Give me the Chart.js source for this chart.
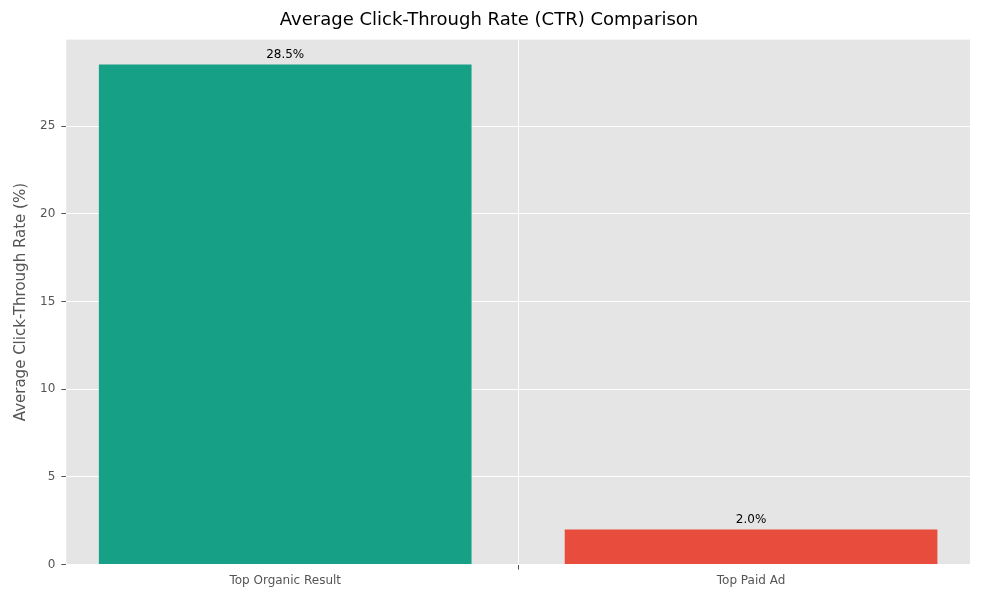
<!DOCTYPE html>
<html>
<head>
<meta charset="utf-8">
<script src="https://cdn.jsdelivr.net/npm/chart.js@4"></script>
<style>
  html, body { margin: 0; padding: 0; background: #fff; }
  #wrap { width: 1000px; height: 600px; }
</style>
</head>
<body>
<div id="wrap"><canvas id="c"></canvas></div>
<script>
const categories = ["Top Organic Result", "Top Paid Ad"];
const ctrValues = [28.5, 2.0];
const barColors = ["#16a085", "#e74c3c"];
const yTicks = [0, 5, 10, 15, 20, 25];

// grey panel behind the plot area
const panelBg = {
  id: "panelBg",
  beforeDraw(chart) {
    const a = chart.chartArea, ctx = chart.ctx;
    ctx.save();
    ctx.fillStyle = "#e5e5e5";
    ctx.fillRect(a.left, a.top, a.right - a.left, a.bottom - a.top);
    ctx.restore();
  }
};

// value labels above bars
const valueLabels = {
  id: "valueLabels",
  afterDatasetsDraw(chart) {
    const ctx = chart.ctx;
    const meta = chart.getDatasetMeta(0);
    ctx.save();
    ctx.fillStyle = "#000";
    ctx.font = "12px 'DejaVu Sans'";
    ctx.textAlign = "center";
    ctx.textBaseline = "bottom";
    meta.data.forEach((bar, i) => {
      ctx.fillText(ctrValues[i].toFixed(1) + "%", bar.x, bar.y - 4);
    });
    ctx.restore();
  }
};

new Chart(document.getElementById("c"), {
  type: "bar",
  data: {
    datasets: [{
      data: ctrValues.map((v, i) => ({ x: i, y: v })),
      backgroundColor: barColors,
      barPercentage: 0.8,
      categoryPercentage: 1.0
    }]
  },
  options: {
    responsive: true,
    maintainAspectRatio: false,
    animation: false,
    layout: { padding: { left: 8, right: 30, top: 0, bottom: 8 } },
    plugins: {
      legend: { display: false },
      tooltip: { enabled: false },
      title: {
        display: true,
        text: "Average Click-Through Rate (CTR) Comparison",
        color: "#000",
        font: { family: "DejaVu Sans", size: 18, weight: "normal" },
        padding: { top: 10, bottom: 8 }
      }
    },
    scales: {
      x: {
        type: "linear",
        offset: false,
        min: -0.47,
        max: 1.47,
        afterBuildTicks(axis) { axis.ticks = categories.map((_, i) => ({ value: i })); },
        ticks: {
          callback: (v) => categories[v] ?? "",
          color: "#555",
          font: { family: "DejaVu Sans", size: 12 },
          padding: 4
        },
        grid: { color: "#fff", lineWidth: 1, tickLength: 5, tickColor: "#555", drawOnChartArea: true },
        border: { display: false }
      },
      y: {
        min: 0,
        max: 29.925,
        afterBuildTicks(axis) { axis.ticks = yTicks.map(v => ({ value: v })); },
        ticks: {
          color: "#555",
          font: { family: "DejaVu Sans", size: 12 },
          padding: 6
        },
        title: {
          display: true,
          text: "Average Click-Through Rate (%)",
          color: "#555",
          font: { family: "DejaVu Sans", size: 15 }
        },
        grid: { color: "#fff", lineWidth: 1, tickLength: 5, tickColor: "#555" },
        border: { display: false }
      }
    }
  },
  plugins: [panelBg, valueLabels]
});
</script>
</body>
</html>
